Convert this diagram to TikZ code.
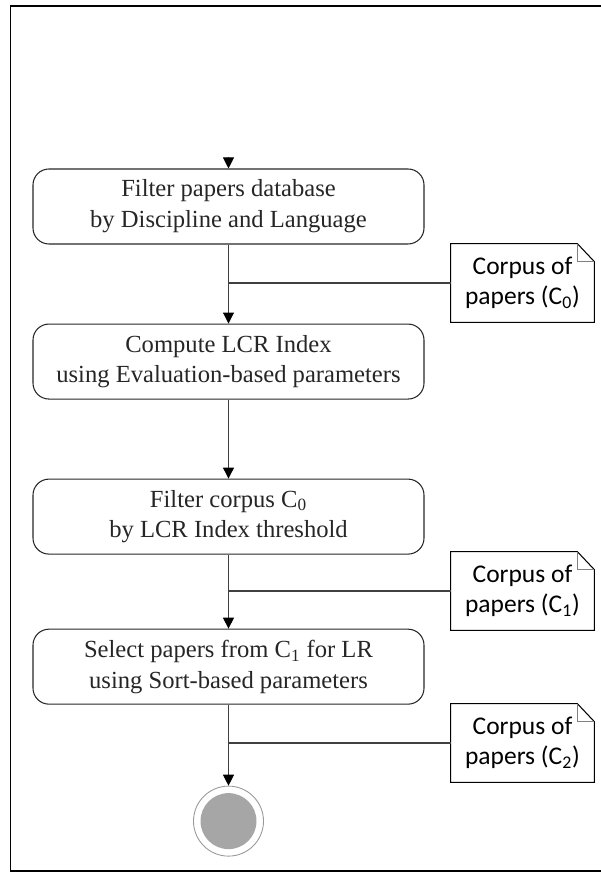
\documentclass[tikz,border=0pt]{standalone}
\usepackage{fontspec}
\setmainfont{Liberation Serif}
\newfontfamily\notefont{Carlito}
\usetikzlibrary{arrows.meta, positioning}

\begin{document}
\begin{tikzpicture}[
    node distance=1.58cm,
    >={Triangle[width=0.22cm, length=0.22cm, black]},
    every node/.style={font=\fontsize{14}{17.5}\selectfont},
    box/.style={rectangle, draw=black!85, line width=0.6pt, rounded corners=0.32cm, align=center, minimum width=7.82cm, minimum height=1.5cm, inner sep=2pt, text=black!85},
    note/.style={rectangle, align=center, minimum width=2.86cm, minimum height=1.56cm, inner sep=2pt, font=\notefont\fontsize{14.5}{17}\selectfont},
    flow/.style={draw=black!75, line width=0.6pt}
  ]
  \useasboundingbox (0,0) rectangle (12,17.46);

  % frame
  \draw[line width=1.1pt] (12.3,17.34) -- (0.21,17.34) -- (0.21,0.04) -- (12.3,0.04);

  \coordinate (start) at (4.57,14.32);

  \node[box] (filter) at (4.57,13.33) {
    Filter papers database\\
    by Discipline and Language
  };

  \node[box, below=of filter] (lcr) {
    Compute LCR Index\\
    using Evaluation-based parameters
  };

  \node[box, below=of lcr] (thresh) {
    Filter corpus C\textsubscript{0}\\
    by LCR Index threshold
  };

  \node[box, below=1.48cm of thresh] (select) {
    Select papers from C\textsubscript{1} for LR\\
    using Sort-based parameters
  };

  \node[circle, draw=black!40, line width=0.5pt, minimum size=1.4cm, inner sep=0pt, below=1.62cm of select] (final) {};
  \fill[black!35] (final) circle (0.56);

  % corpus notes
  \node[note] (c0) at (10.45,11.8) {Corpus of\\papers (C\textsubscript{0})};
  \node[note] (c1) at (10.45,5.64) {Corpus of\\papers (C\textsubscript{1})};
  \node[note] (c2) at (10.45,2.6) {Corpus of\\papers (C\textsubscript{2})};

  \foreach \n in {c0,c1,c2} {
    \draw[line width=0.6pt] (\n.south west) -- (\n.north west) -- ([xshift=-0.34cm]\n.north east)
      -- ([yshift=-0.36cm]\n.north east) -- (\n.south east) -- cycle;
    \draw[black!50, line width=0.6pt] ([xshift=-0.34cm]\n.north east) |- ([yshift=-0.36cm]\n.north east);
  }

  \draw[->, flow] (start) -- (filter);
  \draw[->, flow] (filter) -- (lcr);
  \draw[->, flow] (lcr) -- (thresh);
  \draw[->, flow] (thresh) -- (select);
  \draw[->, flow] (select) -- (final);

  \draw[flow] (c0.west) -- (c0.west -| filter.south);
  \draw[flow] (c1.west) -- (c1.west -| thresh.south);
  \draw[flow] (c2.west) -- (c2.west -| select.south);

\end{tikzpicture}
\end{document}
